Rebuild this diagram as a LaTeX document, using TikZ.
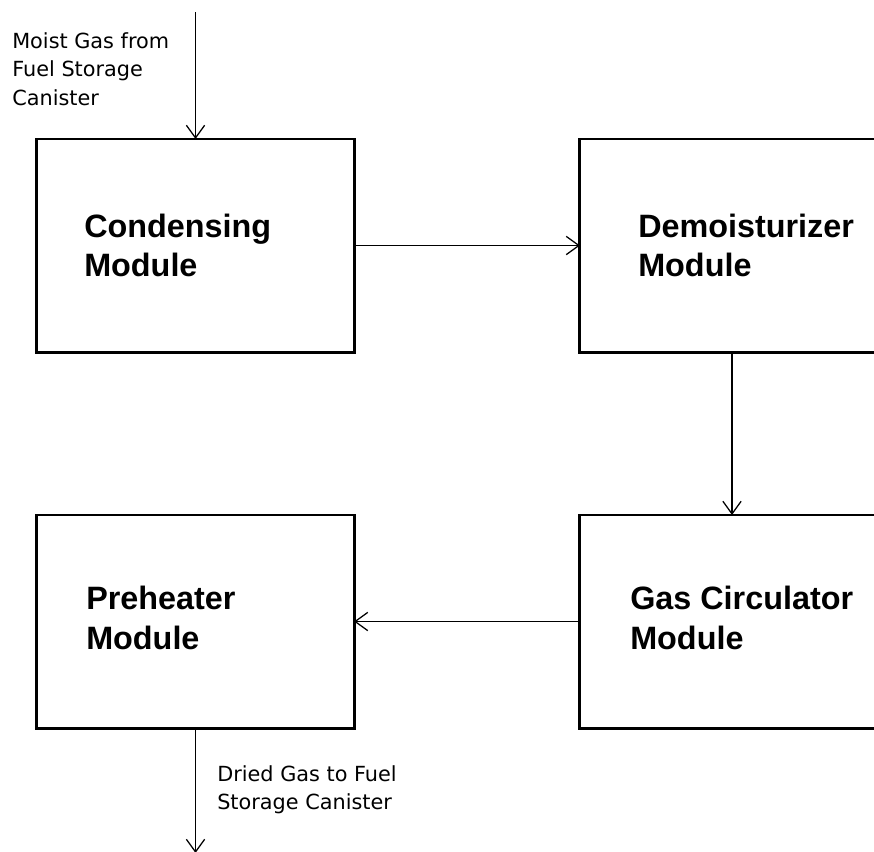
\documentclass[tikz,border=0pt]{standalone}
\usepackage{fontspec}
\setmainfont{DejaVu Sans}
\newfontfamily\modfont{Liberation Sans}
\usetikzlibrary{arrows.meta}

\begin{document}
\begin{tikzpicture}[x=0.025cm, y=-0.025cm, line cap=butt, line join=miter,
  module/.style={draw, line width=2.1pt, rectangle, minimum height=5.325cm, inner sep=0pt, outer sep=0pt},
  modlabel/.style={anchor=west, inner sep=0pt, align=left, font=\modfont\bfseries\fontsize{23}{28}\selectfont},
  note/.style={anchor=north west, inner sep=0pt, align=left, font=\fontsize{14.8}{20.4}\selectfont},
  flow/.style={line width=0.9pt, -{Straight Barb[length=9pt, width=13pt, line width=0.9pt]}}]
  \useasboundingbox (0,0) rectangle (874,851);
  \clip (0,0) rectangle (874,851);
  \fill[white] (0,0) rectangle (874,851);

  \node[module, minimum width=7.925cm] (cond) at (195.5,245.5) {};
  \node[module, minimum width=7.6cm] (demo) at (732,245.5) {};
  \node[module, minimum width=7.6cm] (circ) at (732,621.5) {};
  \node[module, minimum width=7.925cm] (preh) at (195.5,621.5) {};

  \node[modlabel] (condtxt) at (84,245.5) {Condensing\\Module};
  \node[modlabel] (demotxt) at (638,245.5) {Demoisturizer\\Module};
  \node[modlabel] (circtxt) at (630,618) {Gas Circulator\\Module};
  \node[modlabel] (prehtxt) at (86,618) {Preheater\\Module};

  \coordinate (gasin) at (195.5,12);
  \coordinate (gasout) at (195.5,853);
  \node[note] (intxt) at (12,32) {Moist Gas from\\Fuel Storage\\Canister};
  \node[note] (outtxt) at (217,765) {Dried Gas to Fuel\\Storage Canister};

  \draw[flow] (gasin) -- (cond.north);
  \draw[flow] (cond.east) -- (demo.west);
  \draw[flow] (demo.south) -- (circ.north);
  \draw[flow] (circ.west) -- (preh.east);
  \draw[flow] (preh.south) -- (gasout);
\end{tikzpicture}
\end{document}
